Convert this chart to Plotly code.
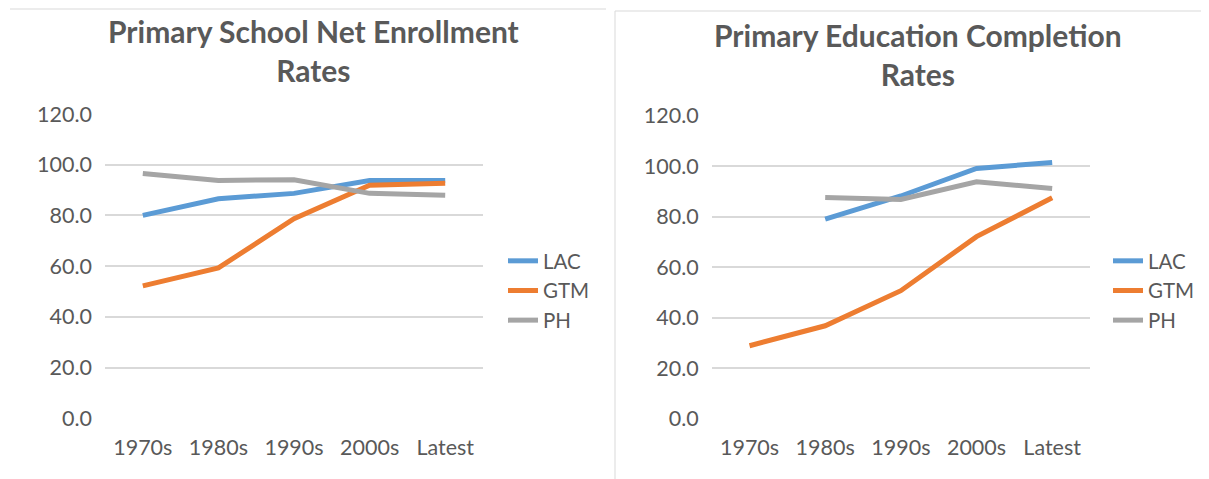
import plotly.graph_objects as go

# data
periods = ["1970s", "1980s", "1990s", "2000s", "Latest"]

enrol_lac = [80.0, 86.6, 88.7, 93.8, 93.8]
enrol_gtm = [52.2, 59.3, 78.7, 91.9, 92.7]
enrol_ph = [96.5, 93.8, 94.1, 88.7, 88.0]

compl_lac = [None, 79.0, 88.2, 99.1, 101.5]
compl_gtm = [28.9, 36.8, 50.7, 72.1, 87.5]
compl_ph = [None, 87.6, 86.8, 93.8, 91.2]

series_names = ["LAC", "GTM", "PH"]
colors = ["#5b9bd5", "#ed7d31", "#a5a5a5"]

W, H = 1209, 479
OFF = 8  # page body margin shifts the figure by 8px
FONT = "Lato"
TXT = "#595959"
GRID = "#d9d9d9"

fig = go.Figure()

panels = [
    ("x", "y", "legend", [enrol_lac, enrol_gtm, enrol_ph]),
    ("x2", "y2", "legend2", [compl_lac, compl_gtm, compl_ph]),
]
for xa, ya, leg, values in panels:
    for name, col, vals in zip(series_names, colors, values):
        fig.add_trace(go.Scatter(
            x=periods, y=vals, name=name, mode="lines",
            line=dict(color=col, width=5),
            xaxis=xa, yaxis=ya, legend=leg,
        ))

def px(v):
    return (v - OFF) / W

def py(v):
    return 1 - (v - OFF) / H

axis_common = dict(showline=False, zeroline=False, ticks="", automargin=False,
                   tickfont=dict(family=FONT, size=21.5, color=TXT))
yaxis_common = dict(axis_common, range=[0, 120], dtick=20, tickformat=".1f",
                    showgrid=True, gridcolor=GRID, gridwidth=1.5,
                    ticklabelstandoff=12)
xaxis_common = dict(axis_common, showgrid=False, range=[-0.5, 4.5],
                    ticklabelstandoff=14)

legend_common = dict(xanchor="left", yanchor="top", xref="paper", yref="paper",
                     font=dict(family=FONT, size=20.5, color=TXT),
                     itemwidth=30, tracegroupgap=0, bgcolor="rgba(0,0,0,0)")

fig.update_layout(
    width=W, height=H,
    margin=dict(l=0, r=0, t=0, b=0),
    paper_bgcolor="white", plot_bgcolor="white",
    font=dict(family=FONT, color=TXT),
    xaxis=dict(xaxis_common, domain=[px(105), px(483)], anchor="y"),
    yaxis=dict(yaxis_common, domain=[py(418.3), py(114)], anchor="x"),
    xaxis2=dict(xaxis_common, domain=[px(711.7), px(1090)], anchor="y2"),
    yaxis2=dict(yaxis_common, domain=[py(418.7), py(115.7)], anchor="x2"),
    legend=dict(legend_common, x=px(503), y=py(241)),
    legend2=dict(legend_common, x=px(1108), y=py(241)),
)

titles = [
    ("Primary School Net Enrollment<br>Rates", 313.5, 51),
    ("Primary Education Completion<br>Rates", 918.5, 54),
]
for text, cx, cy in titles:
    fig.add_annotation(
        text="<b>" + text + "</b>", x=px(cx), y=py(cy), xref="paper", yref="paper",
        showarrow=False, xanchor="center", yanchor="middle",
        font=dict(family=FONT, size=30, color=TXT), align="center",
    )

# chart frames
frame = dict(type="line", xref="paper", yref="paper",
             line=dict(color="#d9d9d9", width=1))
fig.add_shape(frame, x0=px(10), x1=px(606), y0=py(9), y1=py(9))
fig.add_shape(frame, x0=px(615), x1=1, y0=py(11), y1=py(11))
fig.add_shape(frame, x0=px(615), x1=px(615), y0=py(11), y1=0)

fig.write_html("out.html")
